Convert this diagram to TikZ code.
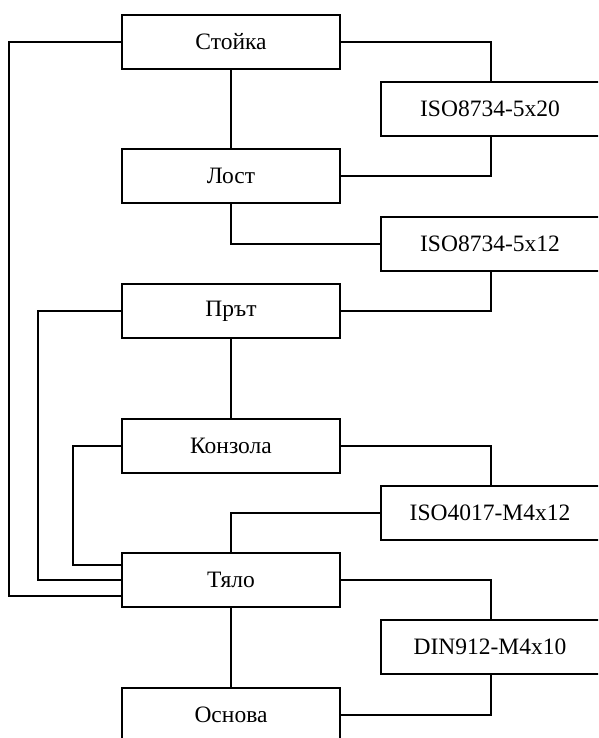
\documentclass[tikz,border=0pt]{standalone}
\usepackage{fontspec}
\setmainfont{Liberation Serif}
\begin{document}
\begin{tikzpicture}[x=1pt,y=-1pt,
  part/.style={draw, line width=1.8pt, minimum width=218pt, minimum height=54pt, inner sep=0pt,
    font=\fontsize{23.5}{28}\selectfont},
  fastener/.style={part, minimum width=226pt},
  conn/.style={line width=1.8pt}]
\useasboundingbox (0,0) rectangle (598,738);
\clip (0,0) rectangle (598,738);
% main parts
\node[part] (stoika) at (231,42) {Стойка};
\node[part] (lost)   at (231,176) {Лост};
\node[part] (prat)   at (231,311) {Прът};
\node[part] (konz)   at (231,446) {Конзола};
\node[part] (tyalo)  at (231,580) {Тяло};
\node[part] (osn)    at (231,715) {Основа};
% fasteners (right borders lie outside the picture)
\node[fastener] (isoA) at (494,109) {ISO8734-5x20\hspace*{8pt}};
\node[fastener] (isoB) at (494,244) {ISO8734-5x12\hspace*{8pt}};
\node[fastener] (isoC) at (494,513) {ISO4017-M4x12\hspace*{8pt}};
\node[fastener] (din)  at (494,647) {DIN912-M4x10\hspace*{8pt}};
% connectors
\draw[conn] (stoika.east) -| ([xshift=-3pt]isoA.north);
\draw[conn] (stoika.south) -- (lost.north);
\draw[conn] ([xshift=-3pt]isoA.south) |- (lost.east);
\draw[conn] (lost.south) |- (isoB.west);
\draw[conn] ([xshift=-3pt]isoB.south) |- (prat.east);
\draw[conn] (prat.south) -- (konz.north);
\draw[conn] (konz.east) -| ([xshift=-3pt]isoC.north);
\draw[conn] (isoC.west) -| (tyalo.north);
\draw[conn] (tyalo.east) -| ([xshift=-3pt]din.north);
\draw[conn] (tyalo.south) -- (osn.north);
\draw[conn] ([xshift=-3pt]din.south) |- (osn.east);
\draw[conn] (stoika.west) -- ++(-112,0) |- ([yshift=-16pt]tyalo.west);
\draw[conn] (prat.west) -- ++(-83,0) |- (tyalo.west);
\draw[conn] (konz.west) -- ++(-48,0) |- ([yshift=15pt]tyalo.west);
\end{tikzpicture}
\end{document}
